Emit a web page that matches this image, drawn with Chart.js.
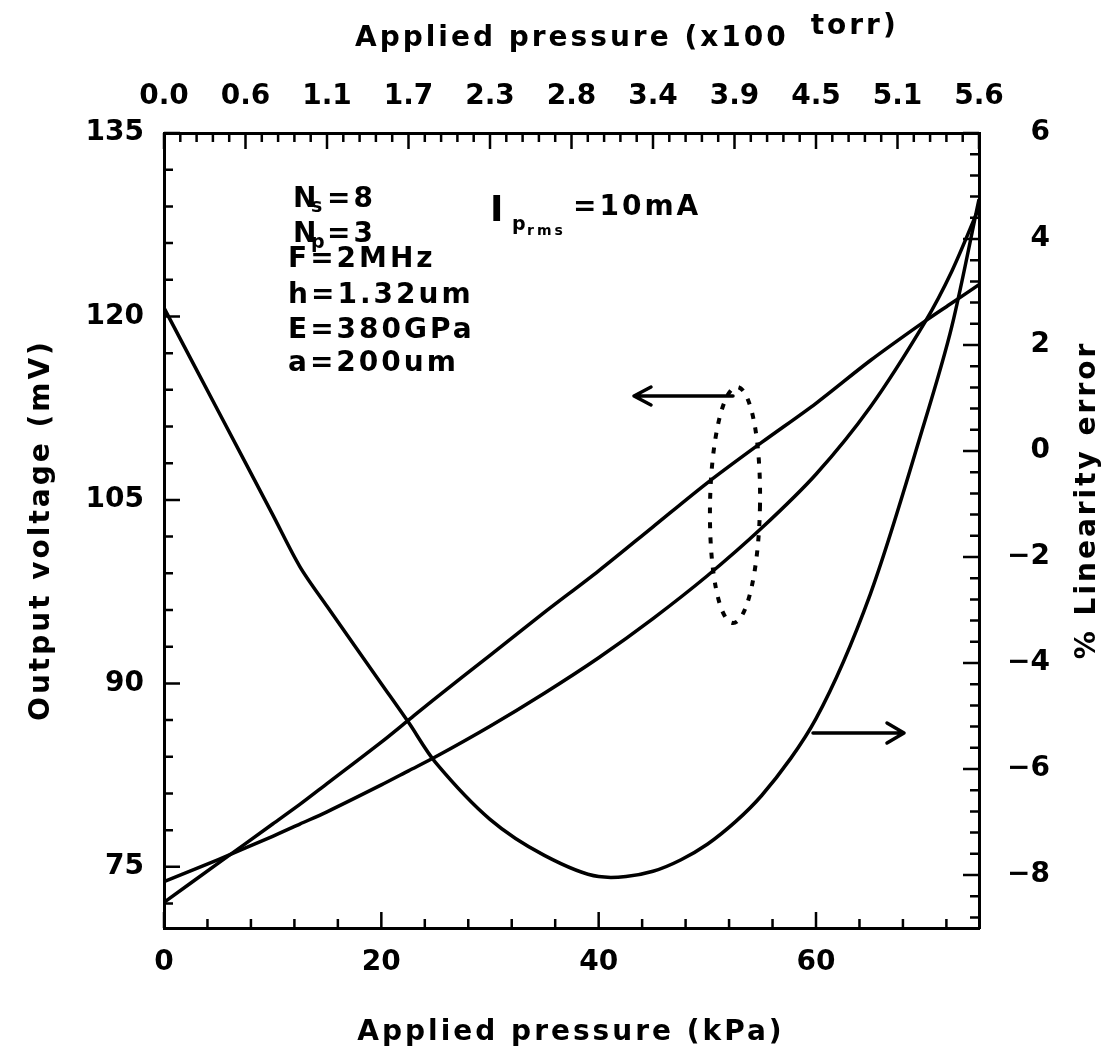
<!DOCTYPE html>
<html>
<head>
<meta charset="utf-8">
<title>Output voltage and linearity error vs applied pressure</title>
<script src="https://cdn.jsdelivr.net/npm/chart.js@4.4.0/dist/chart.umd.min.js"></script>
<style>
  html, body { margin: 0; padding: 0; background: #fff; }
  #box { position: relative; width: 1109px; height: 1047px; }
</style>
</head>
<body>
<div id="box"><canvas id="chart"></canvas></div>
<script>
// applied pressure (kPa)
var pressure = [0, 5, 10, 12.5, 15, 20, 22.5, 25, 30, 35, 40, 45, 50, 55, 60, 65, 70, 72.5, 75];
// output voltage (mV), both read on the left axis
var voltageLinear = [72.1, 75.3, 78.5, 80.1, 81.8, 85.2, 87.0, 88.8, 92.3, 95.8, 99.2, 102.8, 106.4, 109.7, 112.9, 116.4, 119.6, 121.1, 122.6];
var voltageCurved = [73.8, 75.6, 77.5, 78.5, 79.5, 81.7, 82.85, 84.0, 86.5, 89.2, 92.1, 95.3, 98.8, 102.7, 107.1, 112.6, 119.5, 123.7, 128.9];
// % linearity error, right axis
var linearityError = [2.7, 0.75, -1.2, -2.18, -2.93, -4.39, -5.12, -5.88, -6.95, -7.63, -8.03, -7.93, -7.42, -6.5, -5.05, -2.7, 0.55, 2.35, 4.75];

var kPaTicks = [0, 20, 40, 60];
var torrTicks = [0, 7.5, 15, 22.5, 30, 37.5, 45, 52.5, 60, 67.5, 75];
var torrLabels = ['0.0', '0.6', '1.1', '1.7', '2.3', '2.8', '3.4', '3.9', '4.5', '5.1', '5.6'];
var voltTicks = [75, 90, 105, 120, 135];
var errorTicks = [-8, -6, -4, -2, 0, 2, 4, 6];

var ink = '#000';
var face = 'DejaVu Sans';
var tickFont = { family: face, size: 28, weight: 'bold' };

function toPoints(ys) {
    return pressure.map(function (p, i) { return { x: p, y: ys[i] }; });
}

function fixedTicks(values) {
    return function (axis) {
        axis.ticks = values.map(function (v) { return { value: v }; });
    };
}

function drawText(ctx, str, x, y, size, spacing, opts) {
    opts = opts || {};
    ctx.save();
    ctx.font = 'bold ' + size + 'px "' + face + '"';
    ctx.letterSpacing = spacing + 'px';
    ctx.fillStyle = ink;
    ctx.textAlign = opts.align || 'left';
    ctx.textBaseline = opts.baseline || 'alphabetic';
    ctx.translate(x, y);
    if (opts.rotate) ctx.rotate(opts.rotate);
    ctx.fillText(str, 0, 0);
    ctx.restore();
}

function textWidth(ctx, str, size, spacing) {
    ctx.save();
    ctx.font = 'bold ' + size + 'px "' + face + '"';
    ctx.letterSpacing = spacing + 'px';
    var w = ctx.measureText(str).width;
    ctx.restore();
    return w;
}

// inward tick marks on all four sides, every 5th one long
var frameTicks = {
    id: 'frameTicks',
    afterDraw: function (chart) {
        var ctx = chart.ctx, a = chart.chartArea, s = chart.scales;
        var major = 16, minor = 9;
        ctx.save();
        ctx.strokeStyle = ink;
        ctx.lineWidth = 2.5;
        ctx.beginPath();
        var i, v, px, len;
        for (i = 0; (v = i * 4) <= 75; i++) {          // bottom, kPa
            px = s.x.getPixelForValue(v); len = i % 5 ? minor : major;
            ctx.moveTo(px, a.bottom); ctx.lineTo(px, a.bottom - len);
        }
        for (i = 0; (v = i * 1.5) <= 75.01; i++) {     // top, torr
            px = s.x2.getPixelForValue(v); len = i % 5 ? minor : major;
            ctx.moveTo(px, a.top); ctx.lineTo(px, a.top + len);
        }
        for (i = 0; (v = 135 - i * 3) >= 70; i++) {     // left, mV
            px = s.y.getPixelForValue(v); len = i % 5 ? minor : major;
            ctx.moveTo(a.left, px); ctx.lineTo(a.left + len, px);
        }
        for (i = 0; (v = 6 - i * 0.4) >= -8.99; i++) { // right, %
            px = s.y2.getPixelForValue(v); len = i % 5 ? minor : major;
            ctx.moveTo(a.right, px); ctx.lineTo(a.right - len, px);
        }
        ctx.stroke();
        ctx.restore();
    }
};

// axis titles, parameter block, arrows and the dotted loop
var notes = {
    id: 'notes',
    afterDraw: function (chart) {
        var ctx = chart.ctx;

        drawText(ctx, 'Applied pressure (kPa)', 571, 1040, 28, 3, { align: 'center' });
        var head = 'Applied pressure (x100';
        drawText(ctx, head, 355, 46, 28, 3);
        drawText(ctx, 'torr)', 355 + textWidth(ctx, head, 28, 3) + 22, 34, 28, 3);
        drawText(ctx, 'Output voltage (mV)', 42, 530, 28, 3, { align: 'center', baseline: 'middle', rotate: -Math.PI / 2 });
        drawText(ctx, '% Linearity error', 1088, 500, 28, 3, { align: 'center', baseline: 'middle', rotate: -Math.PI / 2 });

        drawText(ctx, 'N', 293, 207, 28, 3);
        drawText(ctx, 's', 311, 212, 19, 0);
        drawText(ctx, '=8', 327, 207, 28, 3);
        drawText(ctx, 'N', 293, 242, 28, 3);
        drawText(ctx, 'p', 311, 248, 19, 0);
        drawText(ctx, '=3', 327, 242, 28, 3);
        drawText(ctx, 'F=2MHz', 288, 267, 28, 3);
        drawText(ctx, 'h=1.32um', 288, 303, 28, 3);
        drawText(ctx, 'E=380GPa', 288, 338, 28, 3);
        drawText(ctx, 'a=200um', 288, 371, 28, 3);

        drawText(ctx, 'I', 490, 221, 36, 0);
        drawText(ctx, 'p', 512, 230, 19, 0);
        drawText(ctx, 'rms', 527, 235, 14, 3);
        drawText(ctx, '=10mA', 573, 215, 28, 3);

        ctx.save();
        ctx.strokeStyle = ink;
        ctx.lineWidth = 3.5;
        ctx.lineCap = 'round';
        ctx.lineJoin = 'round';
        ctx.beginPath();
        // arrow to the voltage axis
        ctx.moveTo(733, 396); ctx.lineTo(634, 396);
        ctx.moveTo(651, 387); ctx.lineTo(634, 396); ctx.lineTo(651, 405);
        // arrow to the error axis
        ctx.moveTo(813, 733); ctx.lineTo(904, 733);
        ctx.moveTo(887, 723); ctx.lineTo(904, 733); ctx.lineTo(887, 743);
        ctx.stroke();

        ctx.lineWidth = 4;
        ctx.lineCap = 'butt';
        ctx.setLineDash([6, 9]);
        ctx.beginPath();
        ctx.ellipse(735, 505, 25, 118, 0.017, 0, Math.PI * 2);
        ctx.stroke();
        ctx.restore();
    }
};

var lineStyle = {
    borderColor: ink,
    borderWidth: 3.5,
    pointRadius: 0,
    fill: false,
    tension: 0.3
};

new Chart(document.getElementById('chart').getContext('2d'), {
    type: 'line',
    data: {
        datasets: [
            Object.assign({ label: 'Output voltage', data: toPoints(voltageLinear), xAxisID: 'x', yAxisID: 'y' }, lineStyle),
            Object.assign({ label: 'Output voltage', data: toPoints(voltageCurved), xAxisID: 'x', yAxisID: 'y' }, lineStyle),
            Object.assign({ label: '% Linearity error', data: toPoints(linearityError), xAxisID: 'x', yAxisID: 'y2' }, lineStyle)
        ]
    },
    options: {
        responsive: true,
        maintainAspectRatio: false,
        animation: false,
        layout: { padding: { right: 59 } },
        plugins: { legend: { display: false }, tooltip: { enabled: false } },
        scales: {
            x: {
                type: 'linear', position: 'bottom', min: 0, max: 75,
                grid: { drawOnChartArea: false, drawTicks: false },
                border: { color: ink, width: 3 },
                ticks: { color: ink, font: tickFont, padding: 18, autoSkip: false, maxRotation: 0 },
                afterBuildTicks: fixedTicks(kPaTicks),
                afterFit: function (s) { s.height = 119; }
            },
            x2: {
                type: 'linear', position: 'top', min: 0, max: 75, display: true,
                grid: { drawOnChartArea: false, drawTicks: false },
                border: { color: ink, width: 3 },
                ticks: {
                    color: ink, font: tickFont, padding: 19, autoSkip: false, maxRotation: 0,
                    callback: function (v, i) { return torrLabels[i]; }
                },
                afterBuildTicks: fixedTicks(torrTicks),
                afterFit: function (s) { s.height = 133; }
            },
            y: {
                type: 'linear', position: 'left', min: 70, max: 135,
                grid: { drawOnChartArea: false, drawTicks: false },
                border: { color: ink, width: 3 },
                ticks: { color: ink, font: tickFont, padding: 20 },
                afterBuildTicks: fixedTicks(voltTicks),
                afterFit: function (s) { s.width = 164; }
            },
            y2: {
                type: 'linear', position: 'right', min: -9, max: 6,
                grid: { drawOnChartArea: false, drawTicks: false },
                border: { color: ink, width: 3 },
                ticks: {
                    color: ink, font: tickFont, crossAlign: 'far',
                    callback: function (v) { return v < 0 ? '\u2212' + Math.abs(v) : String(v); }
                },
                afterBuildTicks: fixedTicks(errorTicks),
                afterFit: function (s) { s.width = 71; }
            }
        }
    },
    plugins: [frameTicks, notes]
});
</script>
</body>
</html>
